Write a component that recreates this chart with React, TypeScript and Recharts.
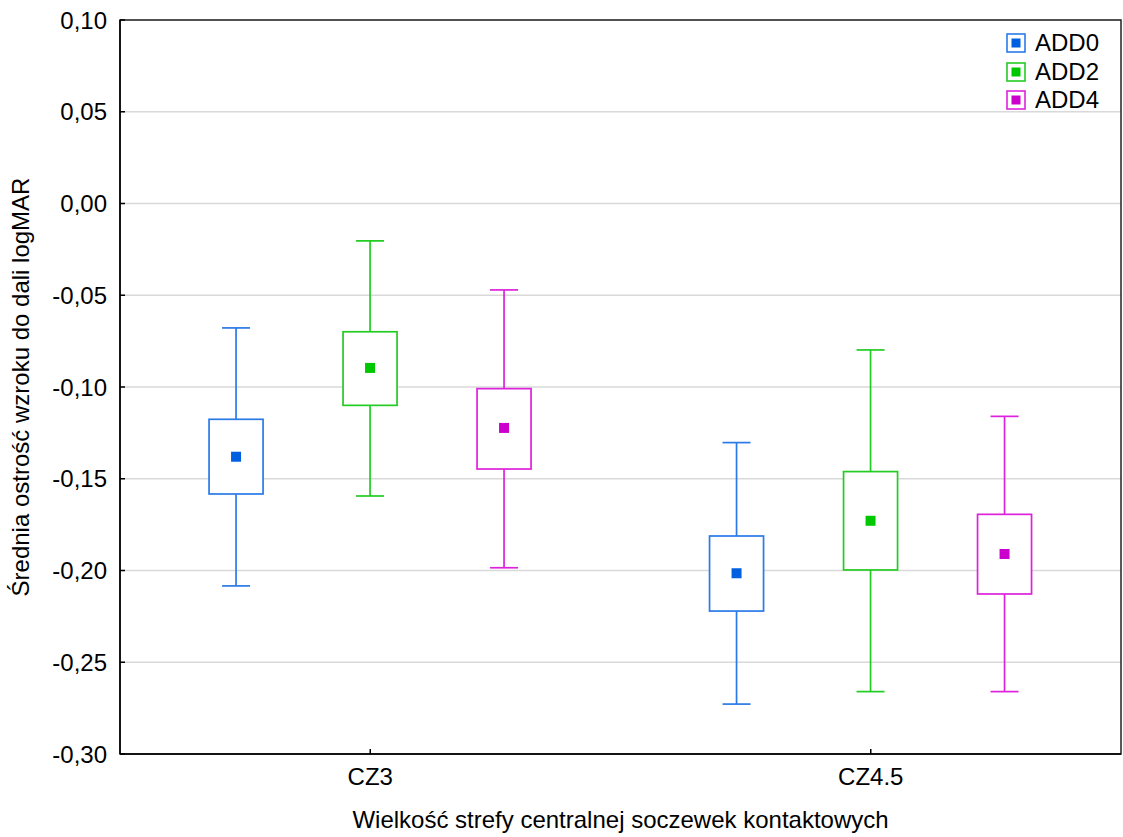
import { ComposedChart, Bar, XAxis, YAxis, CartesianGrid, ReferenceArea } from 'recharts'

document.body.style.margin = '0'

const categories = ['CZ3', 'CZ4.5']

const add0Mean = [-0.138, -0.2015]
const add0BoxLow = [-0.1583, -0.2221]
const add0BoxHigh = [-0.1176, -0.1812]
const add0WhiskerLow = [-0.2084, -0.2728]
const add0WhiskerHigh = [-0.0678, -0.1303]

const add2Mean = [-0.0896, -0.1729]
const add2BoxLow = [-0.11, -0.1997]
const add2BoxHigh = [-0.0699, -0.1461]
const add2WhiskerLow = [-0.1594, -0.266]
const add2WhiskerHigh = [-0.0204, -0.0798]

const add4Mean = [-0.1223, -0.191]
const add4BoxLow = [-0.1447, -0.2128]
const add4BoxHigh = [-0.1009, -0.1694]
const add4WhiskerLow = [-0.1985, -0.266]
const add4WhiskerHigh = [-0.0471, -0.116]

const yTicks = [-0.3, -0.25, -0.2, -0.15, -0.1, -0.05, 0, 0.05, 0.1]

const series = [
  { key: 'add0', name: 'ADD0', stroke: '#2a7ae8', fill: '#0060df', mean: add0Mean, boxLow: add0BoxLow, boxHigh: add0BoxHigh, wLow: add0WhiskerLow, wHigh: add0WhiskerHigh },
  { key: 'add2', name: 'ADD2', stroke: '#22cc22', fill: '#00c800', mean: add2Mean, boxLow: add2BoxLow, boxHigh: add2BoxHigh, wLow: add2WhiskerLow, wHigh: add2WhiskerHigh },
  { key: 'add4', name: 'ADD4', stroke: '#dd22dd', fill: '#cc00cc', mean: add4Mean, boxLow: add4BoxLow, boxHigh: add4BoxHigh, wLow: add4WhiskerLow, wHigh: add4WhiskerHigh }
]

const data = categories.map((cat, i) => {
  const row: any = { cat }
  series.forEach(s => {
    row[s.key] = [s.wLow[i], s.wHigh[i]]
    row[s.key + 'Stats'] = { mean: s.mean[i], q1: s.boxLow[i], q3: s.boxHigh[i] }
  })
  return row
})

const font = 'Liberation Sans, Arial, sans-serif'

// box + whiskers drawn inside the slot recharts gives each bar
function boxShape (key: string, stroke: string, fill: string) {
  return (props: any) => {
    const { x, y, width, height, payload } = props
    const [lo, hi] = payload[key]
    const st = payload[key + 'Stats']
    const top = Math.min(y, y + height)
    const h = Math.abs(height)
    const toPx = (v: number) => top + (hi - v) / (hi - lo) * h
    const cx = x + width / 2
    const bw = 54
    const cap = 28
    const m = 10
    const yq3 = toPx(st.q3)
    const yq1 = toPx(st.q1)
    const ym = toPx(st.mean)
    return (
      <g>
        <line x1={cx} x2={cx} y1={top} y2={yq3} stroke={stroke} strokeWidth={1.7} />
        <line x1={cx} x2={cx} y1={yq1} y2={top + h} stroke={stroke} strokeWidth={1.7} />
        <line x1={cx - cap / 2} x2={cx + cap / 2} y1={top} y2={top} stroke={stroke} strokeWidth={1.7} />
        <line x1={cx - cap / 2} x2={cx + cap / 2} y1={top + h} y2={top + h} stroke={stroke} strokeWidth={1.7} />
        <rect x={cx - bw / 2} y={yq3} width={bw} height={yq1 - yq3} fill="#fff" stroke={stroke} strokeWidth={1.7} />
        <rect x={cx - m / 2} y={ym - m / 2} width={m} height={m} fill={fill} />
      </g>
    )
  }
}

function LegendBox () {
  return (
    <div style={{ position: 'absolute', top: 29, left: 1006, width: 110, fontFamily: font, fontSize: 24 }}>
      {series.map(s => (
        <div key={s.key} style={{ display: 'flex', alignItems: 'center', height: 28.5 }}>
          <svg width={20} height={20} style={{ marginRight: 9 }}>
            <rect x={1} y={1} width={18} height={18} fill="#fff" stroke={s.stroke} strokeWidth={1.6} />
            <rect x={5.5} y={5.5} width={9} height={9} fill={s.fill} />
          </svg>
          <span>{s.name}</span>
        </div>
      ))}
    </div>
  )
}

export default function App () {
  return (
    <div style={{ position: 'relative', width: 1123, height: 837 }}>
      <ComposedChart
        width={1123}
        height={837}
        data={data}
        margin={{ top: 20, right: 2, left: 0, bottom: 0 }}
        barCategoryGap="9.8%"
        barGap={0}
      >
        <CartesianGrid vertical={false} stroke="#d9d9d9" strokeWidth={1.5} />
        <XAxis
          dataKey="cat"
          height={83}
          tickSize={-5}
          tickMargin={19}
          stroke="#000"
          strokeWidth={1.5}
          tick={{ fill: '#000', fontSize: 24, fontFamily: font }}
          label={{ value: 'Wielkość strefy centralnej soczewek kontaktowych', position: 'insideBottom', offset: 9, fill: '#000', fontSize: 24, fontFamily: font }}
        />
        <YAxis
          type="number"
          domain={[-0.3, 0.1]}
          ticks={yTicks}
          width={120}
          tickSize={-5}
          tickMargin={18}
          stroke="#000"
          strokeWidth={1.5}
          tickFormatter={(v: number) => v.toFixed(2).replace('.', ',')}
          tick={{ fill: '#000', fontSize: 24, fontFamily: font }}
          label={{ value: 'Średnia ostrość wzroku do dali logMAR', angle: -90, position: 'insideLeft', offset: 20, fill: '#000', fontSize: 24, fontFamily: font, style: { textAnchor: 'middle' } }}
          allowDataOverflow
        />
        <ReferenceArea y1={-0.3} y2={0.1} fill="none" stroke="#222" strokeWidth={1.5} fillOpacity={0} />
        {series.map(s => (
          <Bar key={s.key} dataKey={s.key} name={s.name} isAnimationActive={false} shape={boxShape(s.key, s.stroke, s.fill)} />
        ))}
      </ComposedChart>
      <LegendBox />
    </div>
  )
}
